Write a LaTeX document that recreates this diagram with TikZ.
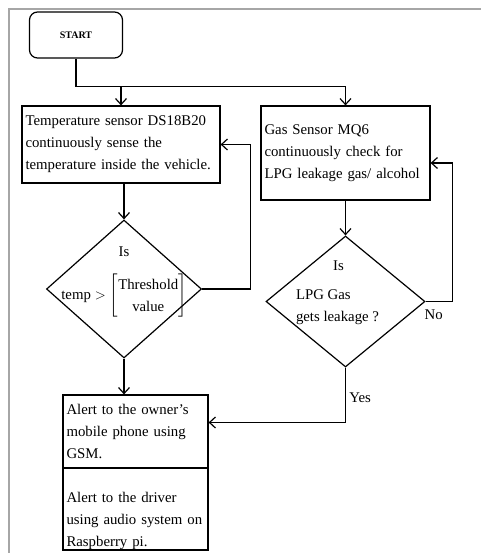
\documentclass[tikz,border=0pt]{standalone}
\usepackage{amsmath}
\usepackage{fontspec}
\setmainfont{Liberation Serif}
\usetikzlibrary{shapes.geometric,arrows.meta}
\tikzset{
    flow/.style={line width=1.2pt},
    arr/.style={flow,-{Straight Barb[length=6pt,width=11pt]}},
    txt/.style={font=\fontsize{14.8}{22}\selectfont},
    box/.style={draw,flow,rectangle,txt,inner xsep=3.5pt,align=left},
    decision/.style={draw,flow,diamond,inner sep=0pt}
}
\begin{document}
\begin{tikzpicture}[x=1pt,y=-1pt]
        \useasboundingbox (0,0) rectangle (481,553);
        \draw[gray!70,line width=1.5pt] (9,553) -- (9,9) -- (481,9);
        \node[draw,flow,rounded corners=8pt,minimum width=93,minimum height=46,font=\bfseries\fontsize{10}{12}\selectfont] (start) at (76,35) {START};
        \node[box,text width=191,minimum height=77] (temp) at (121,144.5) {Temperature sensor DS18B20\\continuously sense the\\temperature inside the vehicle.};
        \node[box,text width=162,minimum height=94] (gas) at (345.5,153) {Gas Sensor MQ6\\continuously check for\\LPG leakage gas/ alcohol};
        \node[decision,minimum width=155,minimum height=138] (tdec) at (124,289) {};
        \node[txt] (tis) at ([yshift=37]tdec.center) {Is};
        \node[txt] (tcmp) at ([yshift=-7]tdec.center) {$\text{temp}>\left[\begin{array}{@{}c@{}}\text{Threshold}\\ \text{value}\end{array}\right]$};
        \node[decision,minimum width=159,minimum height=131] (gdec) at (345.5,301.5) {};
        \node[txt] (gis) at ([xshift=-7,yshift=36]gdec.center) {Is};
        \node[txt,align=left] (gq) at ([xshift=-8,yshift=-6]gdec.center) {LPG Gas\\gets leakage ?};
        \node[box,text width=138,minimum height=73] (owner) at (135.5,431.5) {Alert to the owner's\\mobile phone using\\GSM.};
        \node[draw,flow,minimum width=145,minimum height=82] (driver) at (135.5,509) {};
        \node[txt,text width=138,align=left] (drivertxt) at ([yshift=-12]driver.center) {Alert to the driver\\using audio system on\\Raspberry pi.};
        \coordinate (fork) at ([yshift=-28]start.south);
        \draw[flow] (start.south) -- (fork);
        \draw[arr] (fork) -| (gas.north);
        \draw[arr] (fork -| temp.north) -- (temp.north);
        \draw[arr] (temp.south -| tdec.north) -- (tdec.north);
        \draw[arr] (tdec.east) -- ++(48,0) |- (temp.east);
        \draw[arr] (gas.south) -- (gdec.north);
        \draw[arr] (gdec.east) -- node[txt,pos=0.3,below=4pt] (no) {No} ++(27,0) |- ([yshift=-10]gas.east);
        \draw[arr] (tdec.south) -- (tdec.south |- owner.north);
        \draw[arr] (gdec.south) |- node[txt,pos=0.27,right] (yes) {Yes} ([yshift=9]owner.east);
\end{tikzpicture}
\end{document}
